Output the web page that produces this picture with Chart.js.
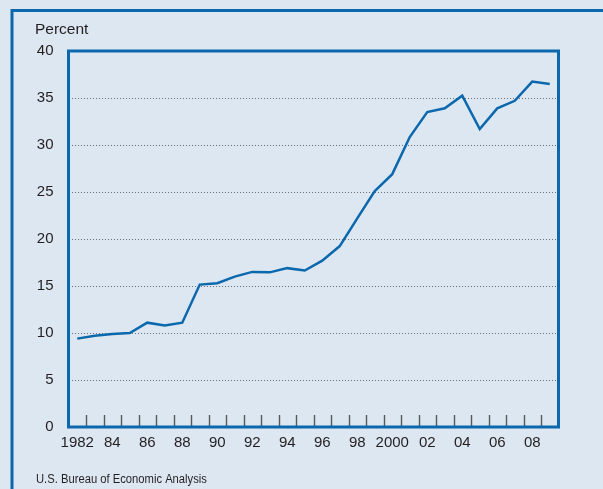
<!DOCTYPE html>
<html>
<head>
<meta charset="utf-8">
<script src="https://cdn.jsdelivr.net/npm/chart.js@4.4.1/dist/chart.umd.min.js"></script>
<style>
  html, body { margin: 0; padding: 0; background: #dde7f2; overflow: hidden; }
  #wrap { position: absolute; left: 0; top: 0; width: 603px; height: 489px; }
</style>
</head>
<body>
<div id="wrap"><canvas id="c" width="603" height="489"></canvas></div>
<script>
const years = [1982, 1983, 1984, 1985, 1986, 1987, 1988, 1989, 1990, 1991, 1992, 1993, 1994, 1995,
               1996, 1997, 1998, 1999, 2000, 2001, 2002, 2003, 2004, 2005, 2006, 2007, 2008, 2009];
const tickLabels = ['1982', '', '84', '', '86', '', '88', '', '90', '', '92', '', '94', '',
                    '96', '', '98', '', '2000', '', '02', '', '04', '', '06', '', '08', ''];
const percentValues = [9.4, 9.7, 9.9, 10.0, 11.1, 10.8, 11.1, 15.15, 15.3, 16.0, 16.5, 16.45, 16.9, 16.65,
                       17.7, 19.25, 22.2, 25.1, 26.9, 30.85, 33.5, 33.9, 35.25, 31.7, 33.9, 34.7, 36.75, 36.5];
const yTicks = [0, 5, 10, 15, 20, 25, 30, 35, 40];
const axisTitle = 'Percent';
const sourceNote = 'U.S. Bureau of Economic Analysis';

const BLUE = '#0b68ad';
const BG = '#dde7f2';
const TEXT = '#231f20';

const decor = {
  id: 'decor',
  beforeDraw(chart) {
    const ctx = chart.ctx;
    ctx.save();
    ctx.fillStyle = BG;
    ctx.fillRect(0, 0, chart.width, chart.height);
    // outer frame (top & left visible)
    ctx.strokeStyle = BLUE;
    ctx.lineWidth = 3;
    ctx.beginPath();
    ctx.moveTo(12, chart.height + 5);
    ctx.lineTo(12, 10.5);
    ctx.lineTo(chart.width + 5, 10.5);
    ctx.stroke();
    // texts
    ctx.fillStyle = TEXT;
    ctx.textBaseline = 'alphabetic';
    ctx.textAlign = 'left';
    ctx.font = '15.5px "Liberation Sans", Arial, sans-serif';
    ctx.fillText(axisTitle, 35, 33.5);
    // condensed source note
    ctx.translate(36, 483);
    ctx.scale(0.82, 1);
    ctx.font = '13.7px "Liberation Sans", Arial, sans-serif';
    ctx.fillText(sourceNote, 0, 0);
    ctx.restore();
  },
  afterDraw(chart) {
    const ctx = chart.ctx;
    const a = chart.chartArea;
    const xs = chart.scales.x;
    ctx.save();
    // inward tick marks at category boundaries
    ctx.strokeStyle = '#58595b';
    ctx.lineWidth = 1.4;
    ctx.beginPath();
    for (let i = 0; i < years.length - 1; i++) {
      const x = Math.round((xs.getPixelForValue(i) + xs.getPixelForValue(i + 1)) / 2) + 0.5;
      ctx.moveTo(x, a.bottom);
      ctx.lineTo(x, a.bottom - 12);
    }
    ctx.stroke();
    // plot frame
    ctx.strokeStyle = BLUE;
    ctx.lineWidth = 3;
    ctx.strokeRect(a.left, a.top, a.right - a.left, a.bottom - a.top);
    ctx.restore();
  }
};

new Chart(document.getElementById('c'), {
  type: 'line',
  data: {
    labels: years,
    datasets: [{
      data: percentValues,
      borderColor: BLUE,
      borderWidth: 2.5,
      pointRadius: 0,
      tension: 0,
      fill: false
    }]
  },
  options: {
    responsive: false,
    animation: false,
    devicePixelRatio: 1,
    layout: { padding: { left: 0, top: 51, right: 44.5, bottom: 0 } },
    plugins: { legend: { display: false }, tooltip: { enabled: false }, title: { display: false } },
    scales: {
      x: {
        type: 'category',
        offset: true,
        grid: { display: false, drawTicks: false, offset: true },
        border: { display: false },
        ticks: {
          autoSkip: false,
          maxRotation: 0,
          minRotation: 0,
          padding: 7,
          color: TEXT,
          font: { family: '"Liberation Sans", Arial, sans-serif', size: 15 },
          callback: (v, i) => tickLabels[i]
        },
        afterFit(s) { s.height = 62; }
      },
      y: {
        min: 0,
        max: 40,
        afterBuildTicks(s) { s.ticks = yTicks.map(v => ({ value: v })); },
        grid: {
          drawTicks: false,
          lineWidth: 1,
          color: c => (c.tick && (c.tick.value === 0 || c.tick.value === 40)) ? 'rgba(0,0,0,0)' : '#6d6e71'
        },
        border: { display: false, dash: [1, 2] },
        ticks: {
          padding: 15,
          color: TEXT,
          font: { family: '"Liberation Sans", Arial, sans-serif', size: 15 }
        },
        afterFit(s) { s.width = 68.5; }
      }
    }
  },
  plugins: [decor]
});
</script>
</body>
</html>
